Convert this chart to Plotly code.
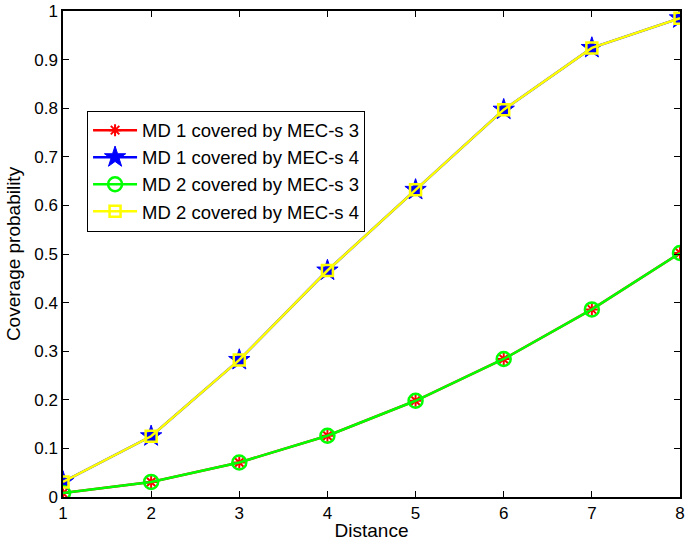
import plotly.graph_objects as go

distance = [1, 2, 3, 4, 5, 6, 7, 8]
md1_mec3 = [0.008, 0.031, 0.071, 0.126, 0.198, 0.284, 0.386, 0.502]
md1_mec4 = [0.031, 0.125, 0.282, 0.466, 0.632, 0.797, 0.924, 0.985]
md2_mec3 = [0.008, 0.031, 0.071, 0.126, 0.198, 0.284, 0.386, 0.502]
md2_mec4 = [0.031, 0.125, 0.282, 0.466, 0.632, 0.797, 0.924, 0.985]

names = ["MD 1 covered by MEC-s 3", "MD 1 covered by MEC-s 4",
         "MD 2 covered by MEC-s 3", "MD 2 covered by MEC-s 4"]
x_ticks = [1, 2, 3, 4, 5, 6, 7, 8]
y_ticks = [0, 0.1, 0.2, 0.3, 0.4, 0.5, 0.6, 0.7, 0.8, 0.9, 1]
y_tick_labels = ["0", "0.1", "0.2", "0.3", "0.4", "0.5", "0.6", "0.7", "0.8", "0.9", "1"]

FONT = "Arial, Liberation Sans, sans-serif"

fig = go.Figure()
fig.add_trace(go.Scatter(
    x=distance, y=md1_mec3, name=names[0], mode="lines+markers",
    line=dict(color="#ff0000", width=2.5),
    marker=dict(symbol="asterisk-open", size=10, color="#ff0000",
                line=dict(color="#ff0000", width=2))))
fig.add_trace(go.Scatter(
    x=distance, y=md1_mec4, name=names[1], mode="lines+markers",
    line=dict(color="#0000ff", width=2.5),
    marker=dict(symbol="star", size=16, color="#0000ff",
                line=dict(color="#0000ff", width=1))))
fig.add_trace(go.Scatter(
    x=distance, y=md2_mec3, name=names[2], mode="lines+markers",
    line=dict(color="#00ff00", width=2.5),
    marker=dict(symbol="circle-open", size=14, color="#00ff00",
                line=dict(color="#00ff00", width=2.5))))
fig.add_trace(go.Scatter(
    x=distance, y=md2_mec4, name=names[3], mode="lines+markers",
    line=dict(color="#ffff00", width=2.5),
    marker=dict(symbol="square-open", size=11, color="#ffff00",
                line=dict(color="#ffff00", width=2.5))))

axis_common = dict(
    showline=True, linecolor="black", linewidth=1.5, mirror="allticks",
    ticks="inside", ticklen=6, tickwidth=1, tickcolor="black",
    showgrid=False, zeroline=False, automargin=False,
    ticklabeloverflow="allow",
    tickfont=dict(family=FONT, size=17, color="black"),
)

fig.update_xaxes(
    range=[1, 8], tickvals=x_ticks,
    title=dict(text="Distance", font=dict(family=FONT, size=19, color="black"), standoff=2),
    **axis_common)
fig.update_yaxes(
    range=[0, 1], tickvals=y_ticks, ticktext=y_tick_labels,
    title=dict(text="Coverage probability", font=dict(family=FONT, size=19, color="black"), standoff=9),
    **axis_common)

fig.update_layout(
    width=688, height=548,
    margin=dict(l=63, r=8, t=11, b=51, autoexpand=False),
    plot_bgcolor="white", paper_bgcolor="white",
    font=dict(family=FONT, size=17, color="black"),
    legend=dict(
        x=0.039, y=0.795, xanchor="left", yanchor="top",
        bgcolor="white", bordercolor="black", borderwidth=1,
        font=dict(family=FONT, size=18.5, color="black"),
        itemwidth=44, tracegroupgap=0,
    ),
    showlegend=True,
)

# remove the browser's default 8 px body margin so the 688x548 figure fills the window
fig.write_html("out.html",
               config={"displayModeBar": False},
               post_script="document.body.style.margin='0';document.body.style.overflow='hidden';")
